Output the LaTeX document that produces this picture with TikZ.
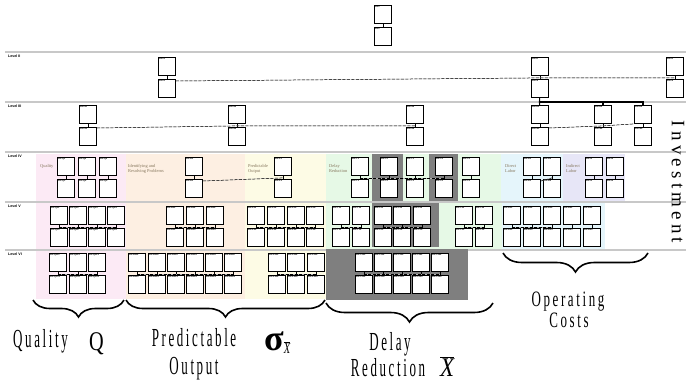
\documentclass[tikz,border=0pt]{standalone}
\usepackage{fontspec}
\setmainfont{Liberation Serif}
\setsansfont{Liberation Sans}
\newfontfamily\bigfont[LetterSpace=20]{Liberation Serif}
\newfontfamily\invfont[LetterSpace=22]{Liberation Serif}
\usetikzlibrary{decorations.pathreplacing}

\definecolor{qpink}{HTML}{FCEAF5}
\definecolor{rpeach}{HTML}{FDEFE2}
\definecolor{pyellow}{HTML}{FDFBE5}
\definecolor{tgreen}{HTML}{E6F9E6}
\definecolor{dcyan}{HTML}{E5F5FB}
\definecolor{ilav}{HTML}{E7E6F7}
\definecolor{tgray}{HTML}{7F7F7F}
\definecolor{sepgray}{HTML}{C8C8C8}
\definecolor{grptext}{HTML}{85765C}

\tikzset{
  cell/.style={draw, fill=white, line width=0.9pt, minimum width=17pt, minimum height=18pt, inner sep=0pt, anchor=north west},
  hdr/.style={anchor=north west, inner sep=0.9pt, font=\sffamily\bfseries\fontsize{2.4}{2.4}\selectfont},
  lvl/.style={anchor=north west, inner sep=0pt, font=\sffamily\bfseries\fontsize{3.6}{4}\selectfont},
  grp/.style={anchor=north west, inner sep=0pt, align=left, text=grptext, font=\fontsize{4.4}{5}\selectfont},
  sep/.style={draw=sepgray, line width=2pt},
  link/.style={line width=0.8pt},
  tree/.style={line width=1.1pt},
  cpl/.style={line width=0.5pt, dash pattern=on 3pt off 1.5pt, preaction={draw=gray!60, solid, line width=0.4pt}},
  brc/.style={decorate, decoration={brace, mirror, amplitude=#1}, line width=1.6pt},
  big/.style={inner sep=0pt, font=\bigfont\fontsize{26}{28}\selectfont},
  cost/.style={inner sep=0pt, font=\bigfont\fontsize{22}{24}\selectfont},
}

\begin{document}
\begin{tikzpicture}[x=1pt,y=-1pt]
\useasboundingbox (0,0) rectangle (686,383);

% coloured groups, level IV
\fill[qpink] (36,154) rectangle (126,201);
\fill[rpeach] (126,154) rectangle (245,201);
\fill[pyellow] (245,154) rectangle (326,201);
\fill[tgreen] (326,154) rectangle (501,201);
\fill[dcyan] (501,154) rectangle (563,201);
\fill[ilav] (563,154) rectangle (625,201);
\fill[tgray] (372,154) rectangle (403,202);
\fill[tgray] (429,154) rectangle (458,202);
% level V
\fill[qpink] (36,203) rectangle (126,249);
\fill[rpeach] (126,203) rectangle (245,249);
\fill[pyellow] (245,203) rectangle (326,249);
\fill[tgreen] (326,203) rectangle (502,249);
\fill[tgray] (372,203) rectangle (439,247);
\fill[dcyan] (502,203) rectangle (605,249);
% level VI
\fill[qpink] (36,251) rectangle (126,299);
\fill[rpeach] (126,251) rectangle (245,299);
\fill[pyellow] (245,251) rectangle (326,299);

% level separators
\foreach \y in {52,102,152,202,250}
  \draw[sep] (5,\y) -- (686,\y);
\fill[tgray] (326,249) rectangle (468,300);

\node[lvl] (l2) at (8,55) {Level II};
\node[lvl] (l3) at (8,105) {Level III};
\node[lvl] (l4) at (8,155) {Level IV};
\node[lvl] (l5) at (8,205) {Level V};
\node[lvl] (l6) at (8,253) {Level VI};

\node[grp] (gq) at (40,164) {Quality};
\node[grp] (gr) at (128,164) {Identifying and\\Resolving Problems};
\node[grp] (gp) at (248,164) {Predictable\\Output};
\node[grp] (gt) at (329,164) {Delay\\Reduction};
\node[grp] (gd) at (505,164) {Direct\\Labor};
\node[grp] (gi) at (566,164) {Indirect\\Labor};

% level I
\node[cell, label={[hdr]north west:FR1}] (fr1) at (374,5) {};
\node[cell, label={[hdr]north west:DP1}] (dp1) at (374,27) {};
\draw[link] (fr1) -- (dp1);

% level II and III
\foreach \x/\t/\y in {158/11/57,531/12/57,666/13/57,79/111/105,228/112/105,406/113/105,531/121/105,594/122/105,634/123/105}{
  \node[cell, label={[hdr]north west:FR\t}] (fr\t) at (\x,\y) {};
  \node[cell, label={[hdr]north west:DP\t}] (dp\t) at (\x,\y+22) {};
  \draw[link] (fr\t) -- (dp\t);
  \coordinate (j\t) at ([yshift=-2pt]fr\t.south);
}
\coordinate (t12) at (539.5,102);
\draw[tree] (dp12) -- (t12) -- (fr121);
\draw[tree] (t12) -| (fr122);
\draw[tree] (t12) -| (fr123);

\draw[cpl] ([yshift=-2pt]dp11.north east) -- (j12) -- (j13);
\draw[cpl] ([yshift=-1pt]dp111.north east) -- (j112) -- (j113);
\draw[cpl] ([yshift=-1pt]dp121.north east) -- (j122) -- (fr123.south west);

% level IV
\foreach \x/\t in {57/Q1,78/Q2,99/Q3,185/R1,274/P1,351/T1,380/T2,406/T3,435/T4,462/T5,523/D1,543/D2,585/I1,606/I2}{
  \node[cell, label={[hdr]north west:FR-\t}] (fr\t) at (\x,157) {};
  \node[cell, label={[hdr]north west:DP-\t}] (dp\t) at (\x,179) {};
  \draw[link] (fr\t) -- (dp\t);
  \coordinate (j\t) at ([yshift=-2pt]fr\t.south);
}
\draw[cpl] ([yshift=-2pt]dpR1.north east) -- (jP1);
\draw[cpl] (jT1) -- (jT4);
\draw[cpl] ([yshift=-2pt]dpD1.north east) -- (jD2);

% level V
\foreach \x/\t in {50/Q11,69/Q12,88/Q13,107/Q14,166/R11,186/R12,206/R13,247/P11,267/P12,287/P13,306/P14,332/T11,352/T12,374/T21,393/T22,413/T23,455/T31,475/T32,503/D11,523/D12,543/D13,563/D21,583/D22}{
  \node[cell, label={[hdr]north west:FR-\t}] (fr\t) at (\x,206) {};
  \node[cell, label={[hdr]north west:DP-\t}] (dp\t) at (\x,228) {};
  \draw[link] (fr\t) -- (dp\t);
  \coordinate (j\t) at ([yshift=-2pt]fr\t.south);
}
\draw[cpl] (jQ11) -- (jQ14);
\draw[cpl] (jR11) -- (jR13);
\draw[cpl] (jP11) -- (jP14);
\draw[cpl] (jT11) -- (jT12);
\draw[cpl] (jT21) -- (jT23);
\draw[cpl] (jT31) -- (jT32);
\draw[cpl] (jD11) -- (jD13);

% level VI
\foreach \x/\t in {49/Q111,69/Q112,88/Q113,128/R111,148/R112,167/R113,186/R114,205/R115,224/R116,268/P111,287/P112,307/P113,355/T211,374/T212,393/T213,412/T221,431/T222}{
  \node[cell, label={[hdr]north west:FR-\t}] (fr\t) at (\x,253) {};
  \node[cell, label={[hdr]north west:DP-\t}] (dp\t) at (\x,275) {};
  \draw[link] (fr\t) -- (dp\t);
  \coordinate (j\t) at ([yshift=-2pt]fr\t.south);
}
\draw[cpl] (jQ111) -- (jQ113);
\draw[cpl] (jR111) -- (jR116);
\draw[cpl] (jP111) -- (jP113);
\draw[cpl] (jT211) -- (jT222);

% investment
\node[rotate=-90, inner sep=0pt, font=\invfont\fontsize{19}{19}\selectfont] (inv) at (678,182) {Investment};

% braces and measures
\draw[brc=17pt] (33,300) -- (124,300);
\draw[brc=17pt] (126,300) -- (325,300);
\draw[brc=19pt] (326,303) -- (493,303);
\draw[brc=19pt] (503,253) -- (648,253);

\node[big, anchor=base west] (mq) at (13,347) {\scalebox{0.5}[1]{Quality}};
\node[inner sep=0pt, anchor=base west, font=\fontsize{27}{28}\selectfont] (symq) at (89,350) {\scalebox{0.75}[1]{Q}};
\node[big, anchor=base] (mp) at (194,346) {\scalebox{0.5}[1]{Predictable}};
\node[big, anchor=base] (mp2) at (194,374) {\scalebox{0.5}[1]{Output}};
\node[inner sep=0pt, anchor=base west, font=\fontsize{36}{36}\selectfont\bfseries] (symp) at (264,350) {σ\raisebox{-3pt}{\fontsize{15}{15}\selectfont\mdseries\scalebox{0.7}[1]{$\overline{\mbox{\itshape X}}$}}};
\node[big, anchor=base] (md) at (390,350) {\scalebox{0.5}[1]{Delay}};
\node[big, anchor=base] (md2) at (388,376) {\scalebox{0.5}[1]{Reduction}};
\node[inner sep=0pt, anchor=base west, font=\fontsize{27}{28}\selectfont] (symd) at (440,376) {\scalebox{0.85}[1]{$\overline{\mbox{\itshape X}}$}};
\node[cost, anchor=base] (mo) at (568,306) {\scalebox{0.59}[1]{Operating}};
\node[cost, anchor=base] (mo2) at (569,327) {\scalebox{0.59}[1]{Costs}};
\end{tikzpicture}
\end{document}
